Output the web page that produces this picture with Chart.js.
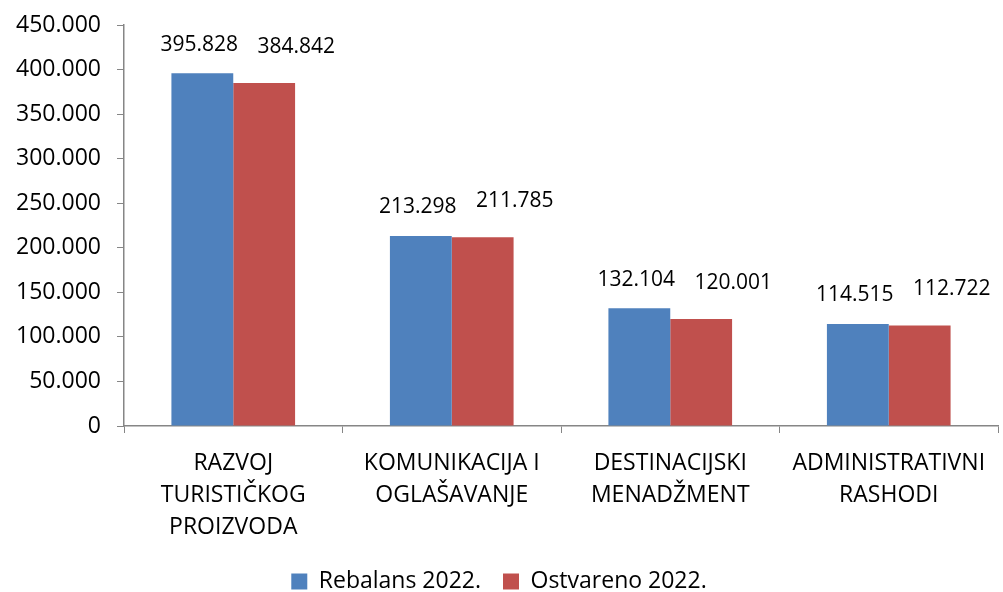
<!DOCTYPE html>
<html>
<head>
<meta charset="utf-8">
<script src="https://cdn.jsdelivr.net/npm/chart.js@4.4.0/dist/chart.umd.min.js"></script>
<style>
  html, body { margin: 0; padding: 0; background: #fff; }
  #wrap { width: 1003px; height: 592px; }
</style>
</head>
<body>
<div id="wrap"><canvas id="chart" width="1003" height="592"></canvas></div>
<script>
const categories = [
  ['RAZVOJ', 'TURISTIČKOG', 'PROIZVODA'],
  ['KOMUNIKACIJA I', 'OGLAŠAVANJE'],
  ['DESTINACIJSKI', 'MENADŽMENT'],
  ['ADMINISTRATIVNI', 'RASHODI']
];
const rebalans = [395828, 213298, 132104, 114515];
const ostvareno = [384842, 211785, 120001, 112722];
const seriesNames = ['Rebalans 2022.', 'Ostvareno 2022.'];

const FONT = "'Open Sans', 'DejaVu Sans', sans-serif";
const fmt = v => v === 0 ? '0' : v.toLocaleString('de-DE');

// value labels above the bars (red ones sit shifted right, as in the original)
const valueLabels = {
  id: 'valueLabels',
  afterDatasetsDraw(chart) {
    const ctx = chart.ctx;
    ctx.save();
    ctx.font = '21px ' + FONT;
    ctx.fillStyle = '#000';
    ctx.textAlign = 'center';
    ctx.textBaseline = 'bottom';
    chart.data.datasets.forEach((ds, i) => {
      chart.getDatasetMeta(i).data.forEach((bar, j) => {
        const dx = i === 0 ? -3 : 32;
        const dy = i === 0 ? 18 : 26;
        ctx.fillText(fmt(ds.data[j]), bar.x + dx, bar.y - dy);
      });
    });
    ctx.restore();
  }
};

new Chart(document.getElementById('chart'), {
  type: 'bar',
  data: {
    labels: categories,
    datasets: [
      { label: seriesNames[0], data: rebalans, backgroundColor: '#4F81BD', borderWidth: 0 },
      { label: seriesNames[1], data: ostvareno, backgroundColor: '#C0504D', borderWidth: 0 }
    ]
  },
  options: {
    responsive: false,
    animation: false,
    layout: { padding: { top: 25, right: 5, left: 0, bottom: -11 } },
    datasets: { bar: { categoryPercentage: 0.566, barPercentage: 1.0 } },
    plugins: {
      legend: {
        position: 'bottom',
        labels: {
          font: { family: FONT, size: 23 },
          color: '#000',
          boxWidth: 16,
          boxHeight: 16,
          padding: 22
        }
      },
      tooltip: { enabled: false }
    },
    scales: {
      x: {
        offset: true,
        grid: { offset: true, drawOnChartArea: false, drawTicks: true, tickLength: 7, color: '#868686' },
        border: { color: '#868686', width: 1.5 },
        ticks: {
          font: { family: FONT, size: 23, lineHeight: 1.4 },
          color: '#000', maxRotation: 0, autoSkip: false, padding: 14
        },
        afterFit(scale) { scale.height = 122; }
      },
      y: {
        min: 0,
        max: 450000,
        grid: { drawOnChartArea: false, drawTicks: true, tickLength: 7, color: '#868686' },
        border: { color: '#868686', width: 1.5 },
        ticks: { stepSize: 50000, font: { family: FONT, size: 23 }, color: '#000', padding: 16, callback: v => fmt(v) },
        afterFit(scale) {
          scale.width = 124;
          scale.paddingTop = 0;
          scale.paddingBottom = 0;
        }
      }
    }
  },
  plugins: [valueLabels]
});
</script>
</body>
</html>
